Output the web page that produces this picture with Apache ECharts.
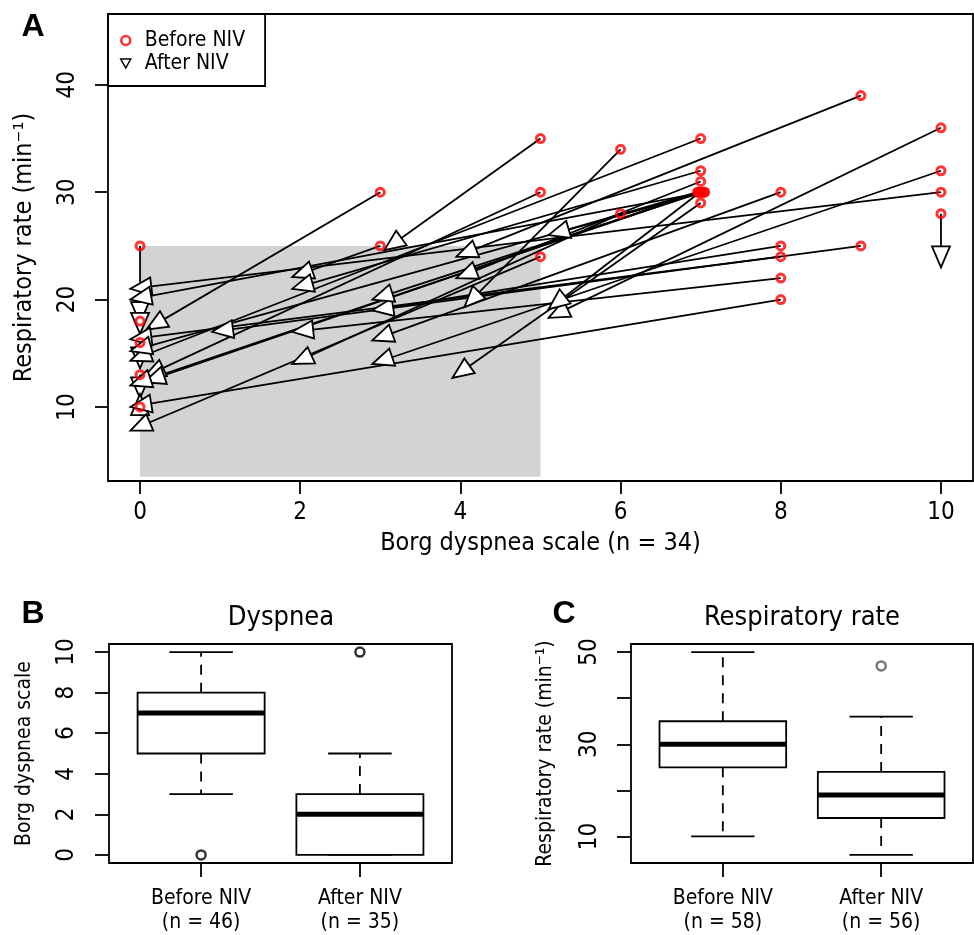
<!DOCTYPE html>
<html>
<head>
<meta charset="utf-8">
<title>Dyspnea and respiratory rate before and after NIV</title>
<script src="https://cdn.jsdelivr.net/npm/echarts@6/dist/echarts.min.js"></script>
<style>
html, body { margin: 0; padding: 0; background: #fff; }
#chart { width: 974px; height: 935px; }
</style>
</head>
<body>
<div id="chart"></div>
<script>
// panel A: one arrow per patient, from before NIV to after NIV
const beforeBorg = [0, 0, 0, 0, 0, 10, 3, 5, 8, 5, 7, 8, 9, 8, 6, 3, 7, 5, 8, 10, 8, 9, 7, 6, 7, 10, 10, 6.96, 6.99, 7.02, 7.05, 6.97, 7.04, 7.0];
const beforeRR   = [25, 18, 16, 13, 10, 30, 30, 24, 20, 30, 35, 24, 25, 22, 28, 25, 32, 35, 30, 32, 25, 39, 31, 34, 29, 36, 28, 30, 30, 30, 30, 30, 30, 30];
const afterBorg  = [0, 0, 0, 0, 0, -0.12, 0.08, -0.12, -0.12, 0.05, -0.12, -0.12, 0.9, 1.9, 1.9, 1.9, 1.9, 3.05, 2.9, 2.9, 2.9, 3.95, 3.95, 4.05, 3.9, 5.1, 10, 5.1, 5.1, 2.9, -0.12, 0.05, -0.12, -0.12];
const afterRR    = [17.8, 16.8, 13.6, 10.8, 11.2, 21, 17.2, 7.8, 10, 12.8, 14.3, 16.3, 17, 17, 14, 22.1, 21, 24.6, 16.2, 14, 19, 24, 22, 19.3, 12.7, 18.3, 23, 26, 19.1, 20, 20, 12.3, 15.2, 12];
const shadeBorg = [0, 5];
const shadeRR = [3.5, 25];
const borgTicks = [0, 2, 4, 6, 8, 10];
const rrTicks = [10, 20, 30, 40];

// panel B: Borg dyspnea scale boxplots (low whisker, q1, median, q3, high whisker)
const groupNames = ['Before NIV', 'After NIV'];
const dyspneaN = [46, 35];
const dyspneaStats = [[3, 5, 7, 8, 10], [0, 0, 2, 3, 5]];
const dyspneaOutliers = [[1, 0], [2, 10]];
const dyspneaTicks = [0, 2, 4, 6, 8, 10];

// panel C: respiratory rate boxplots
const rrN = [58, 56];
const rrStats = [[10, 25, 30, 35, 50], [6, 14, 19, 24, 36]];
const rrOutliers = [[2, 47]];
const rrBoxTicks = [10, 20, 30, 40, 50];
const rrBoxLabels = [10, 30, 50];

const FONT = "'DejaVu Sans Condensed', 'DejaVu Sans', sans-serif";
const chart = echarts.init(document.getElementById('chart'));

function seg(a, b, style) {
  return { type: 'line', shape: { x1: a[0], y1: a[1], x2: b[0], y2: b[1] }, style: style };
}

function shaftItem(params, api) {
  const p0 = api.coord([api.value(0), api.value(1)]);
  const p1 = api.coord([api.value(2), api.value(3)]);
  return seg(p0, p1, { stroke: '#000', lineWidth: 1.8 });
}

function headItem(params, api) {
  const p0 = api.coord([api.value(0), api.value(1)]);
  const p1 = api.coord([api.value(2), api.value(3)]);
  const dx = p1[0] - p0[0], dy = p1[1] - p0[1];
  const len = Math.hypot(dx, dy) || 1;
  const ux = dx / len, uy = dy / len;
  const L = 21, H = 9;
  const bx = p1[0] - ux * L, by = p1[1] - uy * L;
  return {
    type: 'polygon',
    shape: { points: [[p1[0], p1[1]], [bx - uy * H, by + ux * H], [bx + uy * H, by - ux * H]] },
    style: { fill: '#fff', stroke: '#000', lineWidth: 1.8 }
  };
}

function shadeItem(params, api) {
  const a = api.coord([api.value(0), api.value(3)]);
  const b = api.coord([api.value(2), api.value(1)]);
  return { type: 'rect', shape: { x: a[0], y: a[1], width: b[0] - a[0], height: b[1] - a[1] }, style: { fill: '#d3d3d3' } };
}

function boxItem(params, api) {
  const x = api.value(0);
  const lo = api.value(1), q1 = api.value(2), md = api.value(3), q3 = api.value(4), hi = api.value(5);
  const c = (a, b) => api.coord([a, b]);
  const thin = { stroke: '#000', lineWidth: 1.8 };
  const dash = { stroke: '#000', lineWidth: 1.8, lineDash: [10, 8] };
  const tl = c(x - 0.4, q3), br = c(x + 0.4, q1);
  return {
    type: 'group',
    children: [
      seg(c(x, q3), c(x, hi), dash),
      seg(c(x, q1), c(x, lo), dash),
      seg(c(x - 0.2, hi), c(x + 0.2, hi), thin),
      seg(c(x - 0.2, lo), c(x + 0.2, lo), thin),
      { type: 'rect', shape: { x: tl[0], y: tl[1], width: br[0] - tl[0], height: br[1] - tl[1] }, style: { fill: '#fff', stroke: '#000', lineWidth: 1.8 } },
      seg(c(x - 0.4, md), c(x + 0.4, md), { stroke: '#000', lineWidth: 5 })
    ]
  };
}

const noLine = { show: false, onZero: false };
const tick = (len, values) => ({ show: true, length: len, customValues: values, lineStyle: { color: '#000', width: 1.8 } });
const label = (size, margin, values, extra) => Object.assign({ customValues: values, fontSize: size, fontFamily: FONT, color: '#000', margin: margin }, extra || {});
const nameStyle = (size) => ({ fontSize: size, fontFamily: FONT, color: '#000' });

const arrows = beforeBorg.map((b, i) => [b, beforeRR[i], afterBorg[i], afterRR[i]]);
const groupLabelsB = groupNames.map((g, i) => g + '\n(n = ' + dyspneaN[i] + ')');
const groupLabelsC = groupNames.map((g, i) => g + '\n(n = ' + rrN[i] + ')');

const option = {
  animation: false,
  backgroundColor: '#fff',
  grid: [
    { left: 108, top: 14, width: 865, height: 467, show: true, borderColor: '#000', borderWidth: 1.8 },
    { left: 109, top: 644, width: 343, height: 222, show: true, borderColor: '#000', borderWidth: 1.8 },
    { left: 631, top: 644, width: 342, height: 222, show: true, borderColor: '#000', borderWidth: 1.8 }
  ],
  xAxis: [
    {
      gridIndex: 0, type: 'value', min: -0.4, max: 10.4,
      axisLine: noLine, splitLine: { show: false },
      axisTick: tick(13, borgTicks),
      axisLabel: label(24, 20, borgTicks),
      name: 'Borg dyspnea scale (n = 34)', nameLocation: 'middle', nameGap: 50, nameTextStyle: nameStyle(25)
    },
    {
      gridIndex: 1, type: 'value', min: 0.42, max: 2.58,
      axisLine: noLine, splitLine: { show: false },
      axisTick: tick(14, [1, 2]),
      axisLabel: label(21, 24, [1, 2], { lineHeight: 24, formatter: (v) => groupLabelsB[Math.round(v) - 1] })
    },
    {
      gridIndex: 2, type: 'value', min: 0.42, max: 2.58,
      axisLine: noLine, splitLine: { show: false },
      axisTick: tick(14, [1, 2]),
      axisLabel: label(21, 24, [1, 2], { lineHeight: 24, formatter: (v) => groupLabelsC[Math.round(v) - 1] })
    }
  ],
  yAxis: [
    {
      gridIndex: 0, type: 'value', min: 3.1, max: 46.6,
      axisLine: noLine, splitLine: { show: false },
      axisTick: tick(13, rrTicks),
      axisLabel: label(24, 28, rrTicks, { rotate: 90 }),
      name: 'Respiratory rate (min⁻¹)', nameLocation: 'middle', nameGap: 71, nameTextStyle: nameStyle(25)
    },
    {
      gridIndex: 1, type: 'value', min: -0.4, max: 10.4,
      axisLine: noLine, splitLine: { show: false },
      axisTick: tick(14, dyspneaTicks),
      axisLabel: label(24, 30, dyspneaTicks, { rotate: 90 }),
      name: 'Borg dyspnea scale', nameLocation: 'middle', nameGap: 74, nameTextStyle: nameStyle(21)
    },
    {
      gridIndex: 2, type: 'value', min: 4.24, max: 51.76,
      axisLine: noLine, splitLine: { show: false },
      axisTick: tick(14, rrBoxTicks),
      axisLabel: label(24, 29, rrBoxLabels, { rotate: 90 }),
      name: 'Respiratory rate (min⁻¹)', nameLocation: 'middle', nameGap: 75, nameTextStyle: nameStyle(21)
    }
  ],
  legend: {
    orient: 'vertical', left: 108, top: 14,
    padding: [16, 20, 12, 12], itemGap: 2, itemWidth: 28, itemHeight: 9,
    borderColor: '#000', borderWidth: 1.8, borderRadius: 0,
    selectedMode: false,
    textStyle: { fontSize: 21, fontFamily: FONT, color: '#000' },
    data: [
      { name: 'Before NIV', icon: 'circle', itemStyle: { color: 'rgba(0,0,0,0)', borderColor: '#ff0000', borderWidth: 2.5 } },
      { name: 'After NIV', icon: 'path://M0,0L10,0L5,9Z', itemStyle: { color: '#fff', borderColor: '#000', borderWidth: 1.5 } }
    ]
  },
  graphic: [
    { type: 'text', x: 33, y: 27, style: { text: 'A', fontSize: 32, fontWeight: 'bold', fontFamily: "'Liberation Sans', sans-serif", fill: '#000', align: 'center', verticalAlign: 'middle' } },
    { type: 'text', x: 33, y: 614, style: { text: 'B', fontSize: 32, fontWeight: 'bold', fontFamily: "'Liberation Sans', sans-serif", fill: '#000', align: 'center', verticalAlign: 'middle' } },
    { type: 'text', x: 564, y: 614, style: { text: 'C', fontSize: 32, fontWeight: 'bold', fontFamily: "'Liberation Sans', sans-serif", fill: '#000', align: 'center', verticalAlign: 'middle' } },
    { type: 'text', x: 281, y: 618, style: { text: 'Dyspnea', fontSize: 27, fontFamily: FONT, fill: '#000', align: 'center', verticalAlign: 'middle' } },
    { type: 'text', x: 802, y: 618, style: { text: 'Respiratory rate', fontSize: 27, fontFamily: FONT, fill: '#000', align: 'center', verticalAlign: 'middle' } }
  ],
  series: [
    {
      type: 'custom', name: 'shade', xAxisIndex: 0, yAxisIndex: 0, z: 1, silent: true,
      renderItem: shadeItem, encode: { x: [0, 2], y: [1, 3] },
      data: [[shadeBorg[0], shadeRR[0], shadeBorg[1], shadeRR[1]]]
    },
    {
      type: 'custom', name: 'shafts', xAxisIndex: 0, yAxisIndex: 0, z: 2, silent: true,
      renderItem: shaftItem, encode: { x: [0, 2], y: [1, 3] }, data: arrows
    },
    {
      type: 'custom', name: 'After NIV', xAxisIndex: 0, yAxisIndex: 0, z: 3, silent: true,
      renderItem: headItem, encode: { x: [0, 2], y: [1, 3] }, data: arrows
    },
    {
      type: 'scatter', name: 'Before NIV', xAxisIndex: 0, yAxisIndex: 0, z: 4, silent: true,
      symbol: 'circle', symbolSize: 8,
      itemStyle: { color: 'rgba(0,0,0,0)', borderColor: '#ff0000', borderWidth: 3 },
      data: beforeBorg.map((b, i) => [b, beforeRR[i]])
    },
    {
      type: 'custom', name: 'dyspnea', xAxisIndex: 1, yAxisIndex: 1, silent: true,
      renderItem: boxItem, encode: { x: 0, y: [1, 5] },
      data: dyspneaStats.map((s, i) => [i + 1].concat(s))
    },
    {
      type: 'scatter', name: 'dyspnea outliers', xAxisIndex: 1, yAxisIndex: 1, silent: true,
      symbol: 'circle', symbolSize: 9,
      itemStyle: { color: 'rgba(0,0,0,0)', borderColor: (p) => (p.dataIndex === 1 ? '#6e2b2b' : '#555'), borderWidth: 2.5 },
      data: dyspneaOutliers
    },
    {
      type: 'custom', name: 'rr', xAxisIndex: 2, yAxisIndex: 2, silent: true,
      renderItem: boxItem, encode: { x: 0, y: [1, 5] },
      data: rrStats.map((s, i) => [i + 1].concat(s))
    },
    {
      type: 'scatter', name: 'rr outliers', xAxisIndex: 2, yAxisIndex: 2, silent: true,
      symbol: 'circle', symbolSize: 9,
      itemStyle: { color: 'rgba(0,0,0,0)', borderColor: '#555', borderWidth: 2.5 },
      data: rrOutliers
    }
  ]
};

chart.setOption(option);
</script>
</body>
</html>
